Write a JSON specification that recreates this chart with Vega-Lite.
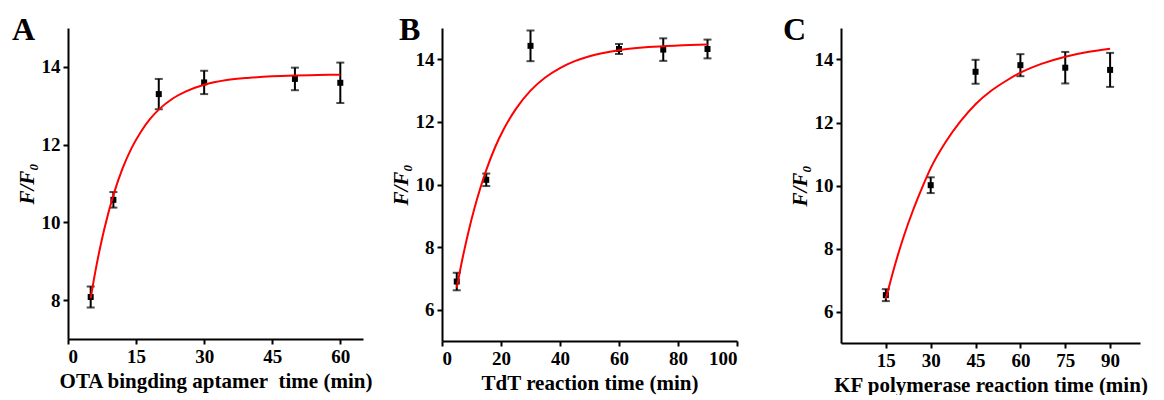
{
  "$schema": "https://vega.github.io/schema/vega-lite/v6.json",
  "background": "white",
  "padding": {"left": 12, "top": 14, "right": 0, "bottom": 0},
  "config": {
    "view": {"stroke": null},
    "font": "Liberation Serif",
    "axis": {
      "grid": false,
      "domainColor": "black",
      "domainWidth": 2,
      "tickColor": "black",
      "tickWidth": 2,
      "tickSize": 5,
      "labelFont": "Liberation Serif",
      "labelFontSize": 19,
      "labelFontWeight": "bold",
      "labelColor": "black",
      "labelPadding": 3,
      "titleFont": "Liberation Serif",
      "titleFontSize": 21,
      "titleFontWeight": "bold",
      "titleColor": "black"
    },
    "title": {"font": "Liberation Serif", "fontSize": 32, "fontWeight": "bold", "color": "black", "anchor": "start", "frame": "group", "baseline": "alphabetic", "offset": -19}
  },
  "datasets": {
    "ptsA": [
      {"t": 5, "v": 8.08, "e": 0.27},
      {"t": 10, "v": 10.58, "e": 0.2},
      {"t": 20, "v": 13.3, "e": 0.39},
      {"t": 30, "v": 13.6, "e": 0.3},
      {"t": 50, "v": 13.69, "e": 0.29},
      {"t": 60, "v": 13.59, "e": 0.52}
    ],
    "fitA": [
      {"t": 5, "v": 8.05}, {"t": 6, "v": 8.72}, {"t": 7, "v": 9.31}, {"t": 8, "v": 9.83},
      {"t": 10, "v": 10.7}, {"t": 12, "v": 11.38}, {"t": 14, "v": 11.91}, {"t": 16, "v": 12.32},
      {"t": 18, "v": 12.65}, {"t": 20, "v": 12.9}, {"t": 23, "v": 13.18}, {"t": 26, "v": 13.37},
      {"t": 30, "v": 13.54}, {"t": 35, "v": 13.66}, {"t": 40, "v": 13.72}, {"t": 45, "v": 13.76},
      {"t": 50, "v": 13.78}, {"t": 55, "v": 13.79}, {"t": 60, "v": 13.8}
    ],
    "ptsB": [
      {"t": 5, "v": 6.9, "e": 0.28},
      {"t": 15, "v": 10.15, "e": 0.2},
      {"t": 30, "v": 14.43, "e": 0.49},
      {"t": 60, "v": 14.33, "e": 0.16},
      {"t": 75, "v": 14.31, "e": 0.36},
      {"t": 90, "v": 14.33, "e": 0.3}
    ],
    "fitB": [
      {"t": 5, "v": 6.7}, {"t": 7, "v": 7.66}, {"t": 9, "v": 8.5}, {"t": 11, "v": 9.24},
      {"t": 13, "v": 9.89}, {"t": 15, "v": 10.46}, {"t": 18, "v": 11.19}, {"t": 21, "v": 11.78},
      {"t": 25, "v": 12.41}, {"t": 30, "v": 13.0}, {"t": 35, "v": 13.42}, {"t": 40, "v": 13.72},
      {"t": 45, "v": 13.94}, {"t": 50, "v": 14.1}, {"t": 60, "v": 14.29}, {"t": 70, "v": 14.39},
      {"t": 80, "v": 14.44}, {"t": 90, "v": 14.47}
    ],
    "ptsC": [
      {"t": 15, "v": 6.52, "e": 0.19},
      {"t": 30, "v": 10.01, "e": 0.25},
      {"t": 45, "v": 13.61, "e": 0.38},
      {"t": 60, "v": 13.82, "e": 0.35},
      {"t": 75, "v": 13.74, "e": 0.5},
      {"t": 90, "v": 13.67, "e": 0.54}
    ],
    "fitC": [
      {"t": 15, "v": 6.4}, {"t": 18, "v": 7.46}, {"t": 21, "v": 8.39}, {"t": 24, "v": 9.19},
      {"t": 27, "v": 9.9}, {"t": 30, "v": 10.55}, {"t": 35, "v": 11.38}, {"t": 40, "v": 12.04},
      {"t": 45, "v": 12.58}, {"t": 50, "v": 12.99}, {"t": 55, "v": 13.31}, {"t": 60, "v": 13.58},
      {"t": 67, "v": 13.86}, {"t": 75, "v": 14.09}, {"t": 82, "v": 14.23}, {"t": 90, "v": 14.34}
    ]
  },
  "spacing": 17,
  "hconcat": [
    {
      "width": 295,
      "height": 311,
      "title": {"text": "A", "dx": -56},
      "layer": [
        {
          "data": {"name": "ptsA"},
          "mark": {"type": "errorbar", "color": "black", "thickness": 2, "ticks": {"size": 8, "thickness": 2, "color": "black"}},
          "encoding": {
            "x": {"field": "t", "type": "quantitative", "scale": {"domain": [0, 65]}, "axis": {"values": [0, 15, 30, 45, 60], "title": "OTA bingding aptamer\u00a0 time (min)"}},
            "y": {"field": "v", "type": "quantitative", "scale": {"domain": [7, 15]}, "axis": {"values": [8, 10, 12, 14], "title": "F/F₀", "titleFontStyle": "italic"}},
            "yError": {"field": "e"}
          }
        },
        {
          "data": {"name": "ptsA"},
          "mark": {"type": "square", "color": "black", "opacity": 1, "size": 36},
          "encoding": {
            "x": {"field": "t", "type": "quantitative"},
            "y": {"field": "v", "type": "quantitative"}
          }
        },
        {
          "data": {"name": "fitA"},
          "mark": {"type": "line", "color": "#ff0000", "strokeWidth": 2, "interpolate": "monotone"},
          "encoding": {
            "x": {"field": "t", "type": "quantitative"},
            "y": {"field": "v", "type": "quantitative"}
          }
        }
      ]
    },
    {
      "spacing": 45,
      "hconcat": [
        {
          "width": 295,
          "height": 313,
          "title": {"text": "B", "dx": -43},
          "layer": [
            {
              "data": {"name": "ptsB"},
              "mark": {"type": "errorbar", "color": "black", "thickness": 2, "ticks": {"size": 8, "thickness": 2, "color": "black"}},
              "encoding": {
                "x": {"field": "t", "type": "quantitative", "scale": {"domain": [0, 100]}, "axis": {"values": [0, 20, 40, 60, 80, 100], "title": "TdT reaction time (min)"}},
                "y": {"field": "v", "type": "quantitative", "scale": {"domain": [5, 15]}, "axis": {"values": [6, 8, 10, 12, 14], "title": "F/F₀", "titleFontStyle": "italic"}},
                "yError": {"field": "e"}
              }
            },
            {
              "data": {"name": "ptsB"},
              "mark": {"type": "square", "color": "black", "opacity": 1, "size": 36},
              "encoding": {
                "x": {"field": "t", "type": "quantitative"},
                "y": {"field": "v", "type": "quantitative"}
              }
            },
            {
              "data": {"name": "fitB"},
              "mark": {"type": "line", "color": "#ff0000", "strokeWidth": 2, "interpolate": "monotone"},
              "encoding": {
                "x": {"field": "t", "type": "quantitative"},
                "y": {"field": "v", "type": "quantitative"}
              }
            }
          ]
        },
        {
          "width": 299,
          "height": 315,
          "title": {"text": "C", "dx": -58},
          "layer": [
            {
              "data": {"name": "ptsC"},
              "mark": {"type": "errorbar", "color": "black", "thickness": 2, "ticks": {"size": 8, "thickness": 2, "color": "black"}},
              "encoding": {
                "x": {"field": "t", "type": "quantitative", "scale": {"domain": [5, 100]}, "axis": {"values": [15, 30, 45, 60, 75, 90], "title": "KF polymerase reaction time (min)"}},
                "y": {"field": "v", "type": "quantitative", "scale": {"domain": [5, 15]}, "axis": {"values": [6, 8, 10, 12, 14], "title": "F/F₀", "titleFontStyle": "italic"}},
                "yError": {"field": "e"}
              }
            },
            {
              "data": {"name": "ptsC"},
              "mark": {"type": "square", "color": "black", "opacity": 1, "size": 36},
              "encoding": {
                "x": {"field": "t", "type": "quantitative"},
                "y": {"field": "v", "type": "quantitative"}
              }
            },
            {
              "data": {"name": "fitC"},
              "mark": {"type": "line", "color": "#ff0000", "strokeWidth": 2, "interpolate": "monotone"},
              "encoding": {
                "x": {"field": "t", "type": "quantitative"},
                "y": {"field": "v", "type": "quantitative"}
              }
            }
          ]
        }
      ]
    }
  ]
}
